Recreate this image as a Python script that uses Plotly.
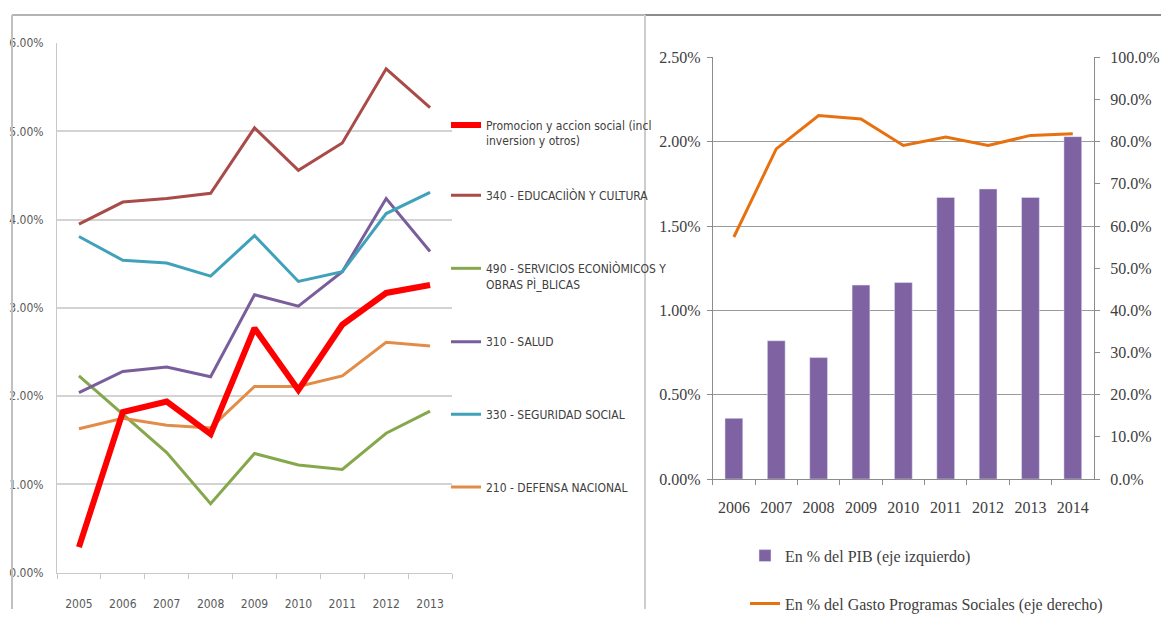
import plotly.graph_objects as go

# ---------------- Left chart data ----------------
years_left = ["2005", "2006", "2007", "2008", "2009", "2010", "2011", "2012", "2013"]
promocion = [0.0029, 0.0182, 0.0194, 0.0157, 0.0277, 0.0207, 0.0281, 0.0317, 0.0326]
educacion = [0.0395, 0.0420, 0.0424, 0.0430, 0.0504, 0.0456, 0.0487, 0.0571, 0.0527]
servicios = [0.0223, 0.0179, 0.0136, 0.0078, 0.0135, 0.0122, 0.0117, 0.0158, 0.0183]
salud = [0.0204, 0.0228, 0.0233, 0.0222, 0.0315, 0.0302, 0.0341, 0.0424, 0.0364]
seguridad = [0.0381, 0.0354, 0.0351, 0.0336, 0.0382, 0.0330, 0.0341, 0.0407, 0.0431]
defensa = [0.0163, 0.0175, 0.0167, 0.0164, 0.0211, 0.0211, 0.0223, 0.0261, 0.0257]

names_left = [
    "Promocion y accion social (incl<br>inversion y otros)",
    "340 - EDUCACIÌÒN Y CULTURA",
    "490 - SERVICIOS ECONÌÒMICOS Y<br>OBRAS PÌ_BLICAS",
    "310 - SALUD",
    "330 - SEGURIDAD SOCIAL",
    "210 - DEFENSA NACIONAL",
]

# ---------------- Right chart data ----------------
years_right = ["2006", "2007", "2008", "2009", "2010", "2011", "2012", "2013", "2014"]
pib = [0.0036, 0.0082, 0.0072, 0.0115, 0.01165, 0.0167, 0.0172, 0.0167, 0.0203]
gasto = [0.574, 0.783, 0.862, 0.854, 0.791, 0.811, 0.791, 0.815, 0.819]
names_right = ["En % del PIB (eje izquierdo)", "En % del Gasto Programas Sociales (eje derecho)"]

W, H = 1161, 621
sans = "Liberation Sans Narrow, DejaVu Sans Condensed, Arial Narrow, sans-serif"
serif = "Liberation Serif, DejaVu Serif, serif"


def px_x(v):
    return v / W


def px_y(v):
    # layout pixel (from top) -> paper fraction, compensating the page capture
    v = (v - 6.9) / 0.972
    return 1 - v / H


fig = go.Figure()

# (values, name, colour, width, legend id, first text line y, two-line?)
left_series = [
    (educacion, names_left[1], "#A94B49", 3, "legend2", 195, False),
    (servicios, names_left[2], "#86A84C", 3, "legend3", 268, True),
    (salud, names_left[3], "#7A5E9C", 3, "legend4", 342, False),
    (seguridad, names_left[4], "#3FA2BA", 3, "legend5", 415, False),
    (defensa, names_left[5], "#E38C48", 3, "legend6", 488, False),
    (promocion, names_left[0], "#FF0000", 6, "legend", 124, True),
]
legend_layout = {}
for vals, nm, col, w, leg, ly, two in left_series:
    fig.add_trace(go.Scatter(
        x=years_left, y=vals, name=nm, mode="lines",
        line=dict(color=col, width=w),
        xaxis="x", yaxis="y", legend=leg,
    ))
    if two:
        pos = dict(y=px_y(ly - 14), yanchor="top", valign="top")
    else:
        pos = dict(y=px_y(ly), yanchor="middle")
    legend_layout[leg] = dict(
        x=px_x(446), xanchor="left", bgcolor="rgba(0,0,0,0)",
        font=dict(family=sans, size=12, color="#404040"), **pos,
    )

fig.add_trace(go.Bar(
    x=years_right, y=pib, name=names_right[0], marker_color="#7F62A2",
    xaxis="x2", yaxis="y2", legend="legend7",
))
fig.add_trace(go.Scatter(
    x=years_right, y=gasto, name=names_right[1], mode="lines",
    line=dict(color="#E8710F", width=3),
    xaxis="x2", yaxis="y3", legend="legend8",
))
for leg, ly in (("legend7", 557), ("legend8", 605)):
    legend_layout[leg] = dict(
        x=px_x(745), xanchor="left", y=px_y(ly), yanchor="middle",
        bgcolor="rgba(0,0,0,0)",
        font=dict(family=serif, size=16, color="#404040"),
    )

fig.update_layout(
    width=W, height=H, autosize=False, showlegend=True,
    margin=dict(l=0, r=0, t=0, b=0),
    paper_bgcolor="white", plot_bgcolor="white",
    bargap=0.58,
    xaxis=dict(
        domain=[px_x(57), px_x(452)], anchor="y", type="category",
        range=[-0.5, 8.5], showgrid=False, showline=True, linecolor="#C8C8C8", linewidth=1,
        ticks="outside", tickson="boundaries", ticklen=5, tickcolor="#C8C8C8",
        ticklabelstandoff=20,
        tickfont=dict(family=sans, size=12, color="#595959"),
    ),
    yaxis=dict(
        domain=[px_y(574), px_y(42.3)], anchor="x", range=[0, 0.06], dtick=0.01,
        tickformat=".2%", showgrid=True, gridcolor="#D3D3D3", gridwidth=2,
        showline=True, linecolor="#C8C8C8", linewidth=1, zeroline=False,
        ticks="", ticklabelstandoff=10,
        tickfont=dict(family=sans, size=12, color="#595959"),
    ),
    xaxis2=dict(
        domain=[px_x(712.7), px_x(1094)], anchor="y2", type="category",
        range=[-0.5, 8.5], showgrid=False, showline=True, linecolor="#8C8C8C", linewidth=1,
        ticks="outside", tickson="boundaries", ticklen=5, tickcolor="#8C8C8C",
        ticklabelstandoff=14,
        tickfont=dict(family=serif, size=16, color="#404040"),
    ),
    yaxis2=dict(
        domain=[px_y(480), px_y(56.5)], anchor="x2", range=[0, 0.025], dtick=0.005,
        tickformat=".2%", showgrid=True, gridcolor="#9A9A9A", gridwidth=1,
        showline=True, linecolor="#8C8C8C", linewidth=1, zeroline=False,
        ticks="outside", ticklen=5, tickcolor="#8C8C8C", ticklabelstandoff=3,
        tickfont=dict(family=serif, size=16, color="#404040"),
    ),
    yaxis3=dict(
        domain=[px_y(480), px_y(56.5)], anchor="x2", overlaying="y2", side="right",
        range=[0, 1], dtick=0.1, tickformat=".1%", showgrid=False,
        showline=True, linecolor="#8C8C8C", linewidth=1, zeroline=False,
        ticks="outside", ticklen=5, tickcolor="#8C8C8C", ticklabelstandoff=7,
        tickfont=dict(family=serif, size=16, color="#404040"),
    ),
    shapes=[
        dict(type="line", xref="paper", yref="paper", x0=px_x(12), x1=px_x(645),
             y0=px_y(14), y1=px_y(14), line=dict(color="#B4B4B4", width=2)),
        dict(type="line", xref="paper", yref="paper", x0=px_x(645), x1=1,
             y0=px_y(14), y1=px_y(14), line=dict(color="#8C8C8C", width=2)),
        dict(type="line", xref="paper", yref="paper", x0=px_x(12), x1=px_x(12),
             y0=0, y1=px_y(14), line=dict(color="#C0C0C0", width=2)),
        dict(type="line", xref="paper", yref="paper", x0=px_x(645), x1=px_x(645),
             y0=0, y1=px_y(14), line=dict(color="#CDCDCD", width=2)),
    ],
    **legend_layout,
)

fig.write_html(
    "out.html",
    config={"displayModeBar": False},
    post_script="document.body.style.margin='0px';document.body.style.overflow='hidden';",
)
